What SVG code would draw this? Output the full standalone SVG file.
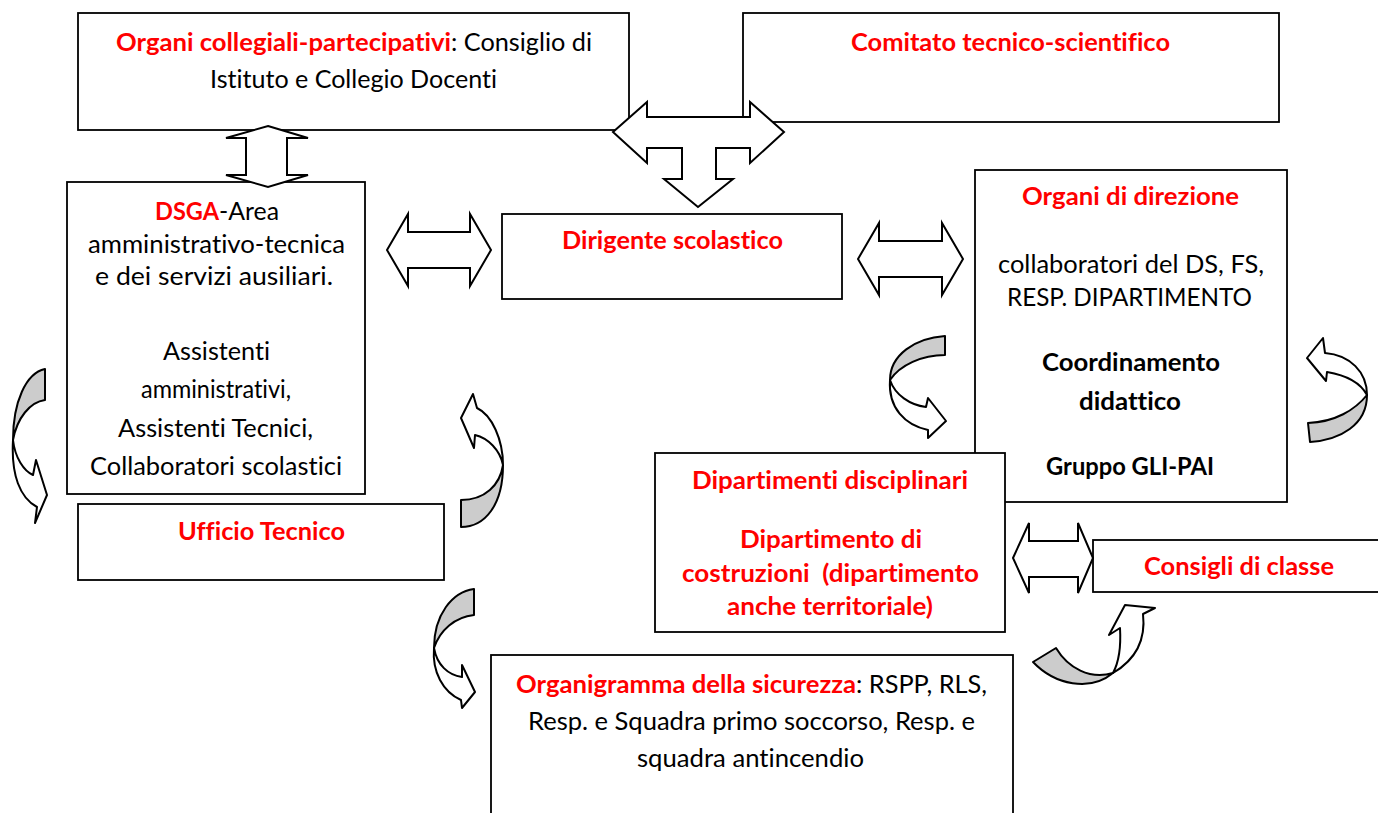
<svg xmlns="http://www.w3.org/2000/svg" width="1378" height="813" viewBox="0 0 1378 813">
<style>
.box{fill:#fff;stroke:#000;stroke-width:1.8}
.arr{fill:#fff;stroke:#000;stroke-width:2;stroke-linejoin:miter}
.gr{fill:#cccccc;stroke:#000;stroke-width:2;stroke-linejoin:round}
.wh{fill:#fff;stroke:#000;stroke-width:2;stroke-linejoin:round}
text{font-family:Lato,"Open Sans","Liberation Sans",sans-serif;font-size:24.5px;font-variant-ligatures:none;font-feature-settings:"liga" 0,"clig" 0,"dlig" 0}
.r{fill:#ff0000;font-weight:bold}
.b{fill:#000;font-weight:bold}
.n{fill:#000}
</style>
<rect width="1378" height="813" fill="#fff"/>
<g id="organi-collegiali">
<rect class="box" x="78" y="13" width="551" height="117"/>
<text class="r" x="116" y="51" textLength="335" lengthAdjust="spacingAndGlyphs">Organi collegiali-partecipativi</text>
<text class="n" x="451" y="51" textLength="141" lengthAdjust="spacingAndGlyphs">: Consiglio di</text>
<text class="n" x="210" y="88" textLength="287" lengthAdjust="spacingAndGlyphs">Istituto e Collegio Docenti</text>
</g>
<g id="comitato">
<rect class="box" x="743" y="13" width="536" height="109"/>
<text class="r" x="851" y="51" textLength="319" lengthAdjust="spacingAndGlyphs">Comitato tecnico-scientifico</text>
</g>
<g id="dsga">
<rect class="box" x="67" y="182" width="298" height="312"/>
<text class="r" x="155" y="220" textLength="64" lengthAdjust="spacingAndGlyphs">DSGA</text>
<text class="n" x="219" y="220" textLength="60" lengthAdjust="spacingAndGlyphs">-Area</text>
<text class="n" x="88" y="253" textLength="257" lengthAdjust="spacingAndGlyphs">amministrativo-tecnica</text>
<text class="n" x="95" y="285" textLength="238" lengthAdjust="spacingAndGlyphs">e dei servizi ausiliari.</text>
<text class="n" x="163" y="360" textLength="107" lengthAdjust="spacingAndGlyphs">Assistenti</text>
<text class="n" x="141" y="398" textLength="150" lengthAdjust="spacingAndGlyphs">amministrativi,</text>
<text class="n" x="118" y="437" textLength="195" lengthAdjust="spacingAndGlyphs">Assistenti Tecnici,</text>
<text class="n" x="90" y="475" textLength="252" lengthAdjust="spacingAndGlyphs">Collaboratori scolastici</text>
</g>
<g id="dirigente">
<rect class="box" x="502" y="214" width="340" height="85"/>
<text class="r" x="562" y="249" textLength="221" lengthAdjust="spacingAndGlyphs">Dirigente scolastico</text>
</g>
<g id="organi-direzione">
<rect class="box" x="975" y="170" width="312" height="332"/>
<text class="r" x="1022" y="205" textLength="217" lengthAdjust="spacingAndGlyphs">Organi di direzione</text>
<text class="n" x="998" y="273" textLength="266" lengthAdjust="spacingAndGlyphs">collaboratori del DS, FS,</text>
<text class="n" x="1007" y="306" textLength="245" lengthAdjust="spacingAndGlyphs">RESP. DIPARTIMENTO</text>
<text class="b" x="1042" y="371" textLength="178" lengthAdjust="spacingAndGlyphs">Coordinamento</text>
<text class="b" x="1079" y="410" textLength="102" lengthAdjust="spacingAndGlyphs">didattico</text>
<text class="b" x="1046" y="475" textLength="168" lengthAdjust="spacingAndGlyphs">Gruppo GLI-PAI</text>
</g>
<g id="ufficio-tecnico">
<rect class="box" x="78" y="504" width="366" height="76"/>
<text class="r" x="178" y="540" textLength="167" lengthAdjust="spacingAndGlyphs">Ufficio Tecnico</text>
</g>
<g id="dipartimenti">
<rect class="box" x="655" y="453" width="350" height="179"/>
<text class="r" x="692" y="489" textLength="276" lengthAdjust="spacingAndGlyphs">Dipartimenti disciplinari</text>
<text class="r" x="740" y="548" textLength="182" lengthAdjust="spacingAndGlyphs">Dipartimento di</text>
<text class="r" x="682" y="582" textLength="297" lengthAdjust="spacingAndGlyphs" xml:space="preserve">costruzioni  (dipartimento</text>
<text class="r" x="727" y="615" textLength="206" lengthAdjust="spacingAndGlyphs">anche territoriale)</text>
</g>
<g id="consigli-classe">
<rect class="box" x="1093" y="540" width="300" height="52"/>
<text class="r" x="1144" y="575" textLength="190" lengthAdjust="spacingAndGlyphs">Consigli di classe</text>
</g>
<g id="organigramma-sicurezza">
<rect class="box" x="491" y="655" width="522" height="180"/>
<text class="r" x="516" y="693" textLength="340" lengthAdjust="spacingAndGlyphs">Organigramma della sicurezza</text>
<text class="n" x="856" y="693" textLength="131" lengthAdjust="spacingAndGlyphs">: RSPP, RLS,</text>
<text class="n" x="528" y="730" textLength="447" lengthAdjust="spacingAndGlyphs">Resp. e Squadra primo soccorso, Resp. e</text>
<text class="n" x="637" y="767" textLength="227" lengthAdjust="spacingAndGlyphs">squadra antincendio</text>
</g>
<g id="connectors">
<polygon class="arr" points="613,132 647,102 647,117 750,117 750,102 784,132 750,163 750,148 716,148 716,179 733,179 698,207 664,179 682,179 682,148 647,148 647,163"/>
<polygon class="arr" points="268,126 308,138 287,138 287,175 308,175 268,187 226,175 246,175 246,138 226,138"/>
<polygon class="arr" points="387,250 408,214 408,232 470,232 470,214 491,250 470,286 470,268 408,268 408,286"/>
<polygon class="arr" points="858,259 879,223 879,241 942,241 942,223 963,259 942,295 942,277 879,277 879,295"/>
<polygon class="arr" points="1013,558 1029,523 1029,541 1078,541 1078,523 1093,558 1078,593 1078,577 1029,577 1029,593"/>
<g id="curved-1">
<path class="gr" d="M45,369 C26,373 13,402 13,440 C17,418 30,402 45,400 Z"/>
<path class="wh" d="M13,440 C15,458 24,471 33,475 L36,460 L47,495 L35,523 L37,507 C20,498 11,475 13,440 Z"/>
</g>
<g id="curved-2">
<path class="gr" d="M461,527 C485,527 503,505 503,465 C500,485 485,500 461,500 Z"/>
<path class="wh" d="M503,465 C503,440 492,415 477,408 L473,394 L461,418 L474,448 L475,435 C488,438 500,450 503,465 Z"/>
</g>
<g id="curved-3">
<path class="gr" d="M945,336 C915,338 890,355 890,380 C900,365 922,355 945,355 Z"/>
<path class="wh" d="M890,380 C895,395 910,405 926,407 L928,398 L946,421 L928,438 L928,430 C905,425 888,408 890,380 Z"/>
</g>
<g id="curved-4">
<path class="gr" d="M1310,442 C1340,440 1367,425 1367,395 C1355,410 1335,422 1308,423 Z"/>
<path class="wh" d="M1367,395 C1367,372 1350,355 1325,353 L1323,338 L1307,358 L1326,381 L1327,372 C1345,375 1360,382 1367,395 Z"/>
</g>
<g id="curved-5">
<path class="gr" d="M474,589 C452,592 434,615 434,648 C440,630 455,617 474,615 Z"/>
<path class="wh" d="M434,648 C437,665 448,675 462,677 L462,665 L475,692 L462,708 L461,700 C443,692 432,672 434,648 Z"/>
</g>
<g id="curved-6">
<path class="gr" d="M1033,662 C1055,685 1090,692 1113,673 C1090,680 1068,668 1056,648 Z"/>
<path class="wh" d="M1113,673 C1120,660 1121,645 1120,628 L1109,635 L1125,605 L1155,608 L1143,614 C1146,640 1135,660 1113,673 Z"/>
</g>
</g>
</svg>
